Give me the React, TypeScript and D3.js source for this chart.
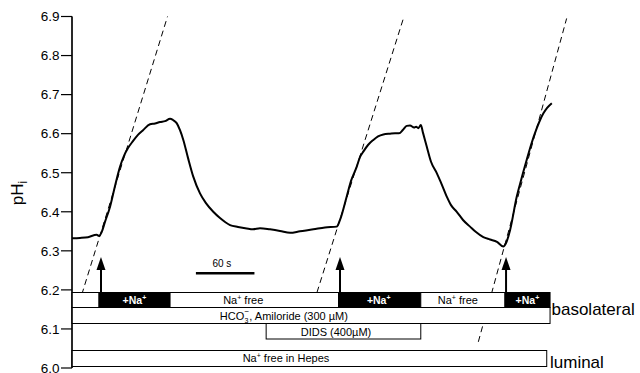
import React from "react";
import * as d3 from "d3";

// Intracellular pH trace (time in s, pHi)
const traceTime = [
  0, 8.2, 16.4, 25.3, 27.7, 30.4, 33.8, 39, 44.1, 49.2, 53.3, 57.4, 62.5, 67.6, 72.8, 80, 85.1, 90.2, 95.3,
  100.5, 103.5, 107.3, 110.7, 114.1, 118.9, 124.3, 131.2, 137.3, 144.8, 151.7, 162, 170.2, 179.1, 185.5,
  192.7, 203, 213.2, 223.5, 233.7, 247.4, 259.3, 271.3, 274.7, 281.6, 286, 291.8, 295.2, 298.6, 303.4,
  308.9, 313.7, 319.1, 326, 331.1, 335.2, 339.3, 343.1, 346.5, 350.6, 352.7, 355, 357.5, 359.8, 363.6,
  368, 373.9, 378.3, 384.1, 388.5, 394.4, 400.8, 408, 414.1, 421.6, 428.5, 435.6, 442.1, 444.9, 449,
  455.9, 460.3, 466.1, 470.5, 476.4, 479.8, 483.2, 487, 491.8,
];
const tracePH = [
  6.332, 6.333, 6.335, 6.341, 6.338, 6.348, 6.374, 6.413, 6.466, 6.515, 6.543, 6.563, 6.581, 6.597, 6.609,
  6.624, 6.626, 6.63, 6.632, 6.638, 6.635, 6.627, 6.609, 6.584, 6.538, 6.49, 6.447, 6.422, 6.4, 6.384,
  6.366, 6.361, 6.357, 6.355, 6.358, 6.355, 6.351, 6.346, 6.35, 6.355, 6.36, 6.362, 6.379, 6.439, 6.479,
  6.515, 6.54, 6.554, 6.571, 6.584, 6.593, 6.598, 6.6, 6.601, 6.601, 6.61, 6.62, 6.621, 6.616, 6.618,
  6.614, 6.622, 6.602, 6.567, 6.528, 6.499, 6.474, 6.439, 6.417, 6.4, 6.379, 6.362, 6.348, 6.335, 6.329,
  6.323, 6.311, 6.32, 6.353, 6.439, 6.481, 6.533, 6.571, 6.614, 6.635, 6.652, 6.666, 6.678,
];

// Initial-rate tangents: [t0, pH0, t1, pH1]
const slopeLines = [
  [1, 6.115, 97.9, 6.9],
  [248, 6.169, 340.3, 6.9],
  [416.5, 6.067, 507, 6.895],
];

// Y axis ticks
const yTicks = [6.0, 6.1, 6.2, 6.3, 6.4, 6.5, 6.6, 6.7, 6.8, 6.9];

// Basolateral Na+ protocol segments (s)
const naStart = [0, 27.7, 100.5, 273.2, 357.5, 443.8];
const naEnd = [27.7, 100.5, 273.2, 357.5, 443.8, 490];
const naOn = [false, true, false, true, false, true];
const naLabelTime = [null, 64, 175.5, 314.4, 395.5, 466.8];

// Na+ re-addition arrows (s)
const arrowTimes = [29.7, 274.7, 444.9];

// Solution bars (s)
const hco3Span = [0, 490];
const didsSpan = [199, 357.5];
const luminalSpan = [0, 486.6];
const hco3LabelStart = 151.5;
const didsLabelTime = 270.6;
const luminalLabelTime = 219.3;

// Time scale bar (s)
const scaleBarStart = 127;
const scaleBarLength = 60;

const W = 640;
const H = 373;
const FONT = "'Liberation Sans', Arial, Helvetica, sans-serif";

export default function App() {
  const x = d3.scaleLinear().domain([0, 492]).range([72, 552]);
  const y = d3.scaleLinear().domain([6.0, 6.9]).range([368, 16.5]);

  const pts: [number, number][] = traceTime.map((t, i) => [t, tracePH[i]]);
  const line = d3
    .line<[number, number]>()
    .x((d) => x(d[0]))
    .y((d) => y(d[1]))
    .curve(d3.curveMonotoneX);

  // bar rows (px)
  const naTop = 292.5, naBot = 307.5;
  const hcoBot = 323.5;
  const didsBot = 339;
  const lumTop = 350.5, lumBot = 366.5;

  const hx = x(hco3LabelStart);

  return (
    <svg
      width={W}
      height={H}
      style={{ position: "absolute", left: 0, top: 0, background: "#fff" }}
      fontFamily={FONT}
    >
      <rect x={0} y={0} width={W} height={H} fill="#fff" />

      {/* Y axis */}
      <line x1={72} x2={72} y1={y(6.9)} y2={y(6.0)} stroke="#000" strokeWidth={1.2} />
      {yTicks.map((v) => (
        <g key={v}>
          <line x1={61} x2={72} y1={y(v)} y2={y(v)} stroke="#000" strokeWidth={1.2} />
          <text x={59.5} y={y(v) + 4.8} textAnchor="end" fontSize={13.5} fill="#000">
            {v.toFixed(1)}
          </text>
        </g>
      ))}
      <text
        transform={`translate(23,193) rotate(-90)`}
        textAnchor="middle"
        fontSize={17}
        fill="#000"
      >
        pH<tspan fontSize={12} dy={4}>i</tspan>
      </text>

      {/* tangent lines */}
      {slopeLines.map((s, i) => (
        <line
          key={i}
          x1={x(s[0])}
          y1={y(s[1])}
          x2={x(s[2])}
          y2={y(s[3])}
          stroke="#000"
          strokeWidth={1}
          strokeDasharray="6,4"
        />
      ))}

      {/* pHi trace */}
      <path d={line(pts) || ""} fill="none" stroke="#000" strokeWidth={2} strokeLinejoin="round" />

      {/* scale bar */}
      <line
        x1={x(scaleBarStart)}
        x2={x(scaleBarStart + scaleBarLength)}
        y1={273.3}
        y2={273.3}
        stroke="#000"
        strokeWidth={2.5}
      />
      <text x={x(scaleBarStart) + 26} y={267} textAnchor="middle" fontSize={10} fill="#000">
        60 s
      </text>

      {/* arrows */}
      {arrowTimes.map((t, i) => (
        <g key={i}>
          <line x1={x(t)} x2={x(t)} y1={naTop} y2={268} stroke="#000" strokeWidth={2} />
          <path
            d={`M${x(t)},257 L${x(t) - 4.5},270 L${x(t) + 4.5},270 Z`}
            fill="#000"
          />
        </g>
      ))}

      {/* basolateral Na+ row */}
      {naStart.map((s, i) => (
        <rect
          key={i}
          x={x(s)}
          y={naTop}
          width={x(naEnd[i]) - x(s)}
          height={naBot - naTop}
          fill={naOn[i] ? "#000" : "#fff"}
          stroke="#000"
          strokeWidth={1}
        />
      ))}
      {naLabelTime.map((t, i) =>
        t === null ? null : (
          <text
            key={i}
            x={x(t)}
            y={304}
            textAnchor="middle"
            fontSize={naOn[i] ? 10.5 : 11}
            fontWeight={naOn[i] ? "bold" : "normal"}
            fill={naOn[i] ? "#fff" : "#000"}
          >
            {naOn[i] ? "+Na" : "Na"}
            <tspan fontSize={7} dy={-4}>+</tspan>
            <tspan dy={4}>{naOn[i] ? "" : " free"}</tspan>
          </text>
        )
      )}

      {/* HCO3- / amiloride row */}
      <rect
        x={x(hco3Span[0])}
        y={naBot}
        width={x(hco3Span[1]) - x(hco3Span[0])}
        height={hcoBot - naBot}
        fill="#fff"
        stroke="#000"
        strokeWidth={1}
      />
      <text x={hx} y={320} fontSize={11} fill="#000">HCO</text>
      <text x={hx + 24.6} y={322.5} fontSize={7} fill="#000">3</text>
      <text x={hx + 24.6} y={313.5} fontSize={8} fill="#000">−</text>
      <text x={hx + 29.5} y={320} fontSize={11} fill="#000">, Amiloride (300 µM)</text>

      {/* DIDS row */}
      <rect
        x={x(didsSpan[0])}
        y={hcoBot}
        width={x(didsSpan[1]) - x(didsSpan[0])}
        height={didsBot - hcoBot}
        fill="#fff"
        stroke="#000"
        strokeWidth={1}
      />
      <text x={x(didsLabelTime)} y={335.5} textAnchor="middle" fontSize={11} fill="#000">
        DIDS (400µM)
      </text>

      {/* luminal row */}
      <rect
        x={x(luminalSpan[0])}
        y={lumTop}
        width={x(luminalSpan[1]) - x(luminalSpan[0])}
        height={lumBot - lumTop}
        fill="#fff"
        stroke="#000"
        strokeWidth={1}
      />
      <text x={x(luminalLabelTime)} y={362} textAnchor="middle" fontSize={11} fill="#000">
        Na<tspan fontSize={7} dy={-4}>+</tspan>
        <tspan dy={4}> free in Hepes</tspan>
      </text>

      {/* y axis drawn over the rows */}
      <line x1={72} x2={72} y1={y(6.9)} y2={y(6.0)} stroke="#000" strokeWidth={1.2} />

      <text x={551.5} y={315} fontSize={17} fill="#000">
        basolateral
      </text>
      <text x={550} y={368} fontSize={17} fill="#000">
        luminal
      </text>
    </svg>
  );
}
